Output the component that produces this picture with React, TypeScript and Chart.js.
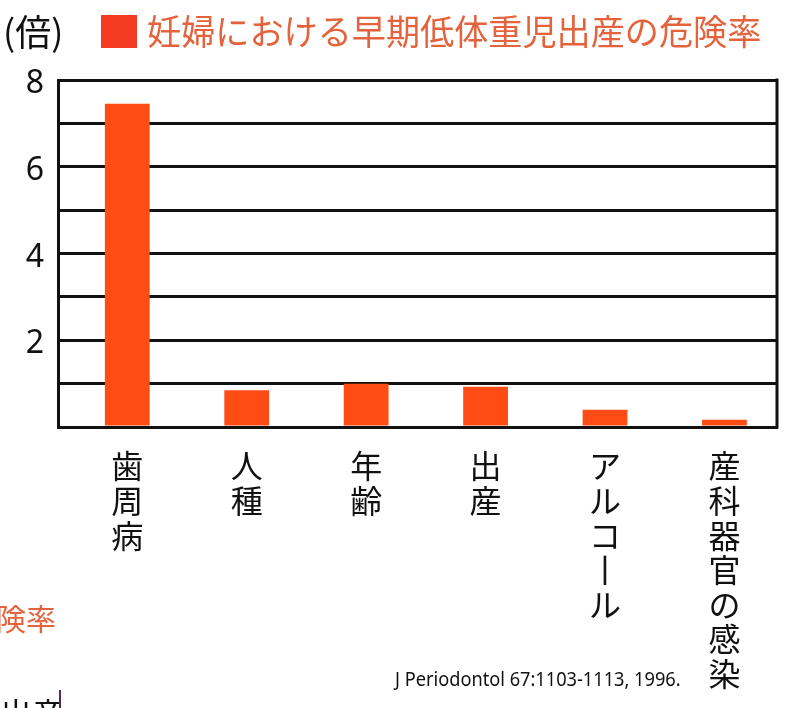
import React, { useEffect, useRef } from 'react';
import { Chart, registerables } from 'chart.js';

Chart.register(...registerables);

// ---- data ----
const categories = ['歯周病', '人種', '年齢', '出産', 'アルコール', '産科器官の感染'];
const riskValues = [7.45, 0.85, 1.0, 0.93, 0.4, 0.17];
const seriesLabel = '妊婦における早期低体重児出産の危険率';
const yUnit = '(倍)';
const yTickLabels = [2, 4, 6, 8];
const sourceNote = 'J Periodontol 67:1103-1113, 1996.';

const BAR_COLOR = '#ff4b14';
const LEGEND_SQUARE = '#f53a24';
const LEGEND_TEXT = '#e4623c';
const INK = '#111111';
const JP = '"Noto Sans CJK JP", "Noto Sans", sans-serif';
const NUM = '"Noto Sans", "Open Sans", sans-serif';

// vertical label: one char per line, long vowel mark shown as a vertical stroke
const verticalLabels = categories.map((c) => Array.from(c).map((ch) => (ch === 'ー' ? '丨' : ch)));
const points = riskValues.map((v, i) => ({ x: i, y: v }));

const rightBorder = {
  id: 'rightBorder',
  afterDatasetsDraw(chart: any) {
    const { ctx, chartArea } = chart;
    ctx.save();
    ctx.strokeStyle = INK;
    ctx.lineWidth = 3;
    ctx.beginPath();
    ctx.moveTo(chartArea.right, chartArea.top - 1.5);
    ctx.lineTo(chartArea.right, chartArea.bottom + 1.5);
    ctx.stroke();
    ctx.restore();
  },
};

export default function App() {
  const ref = useRef<HTMLCanvasElement>(null);

  useEffect(() => {
    document.body.style.margin = '0';
    const chart = new Chart(ref.current!, {
      type: 'bar',
      data: {
        datasets: [
          {
            label: seriesLabel,
            data: points,
            backgroundColor: BAR_COLOR,
            barPercentage: 0.375,
            categoryPercentage: 1,
          },
        ],
      },
      options: {
        responsive: false,
        animation: false,
        layout: { padding: { top: 80, right: 23, left: 0, bottom: 0 } },
        plugins: { legend: { display: false }, tooltip: { enabled: false } },
        scales: {
          x: {
            type: 'linear',
            min: -0.58,
            max: 5.44,
            offset: false,
            grid: { display: false },
            border: { display: true, color: INK, width: 3 },
            ticks: {
              stepSize: 1,
              includeBounds: false,
              color: INK,
              font: { family: JP, size: 32, lineHeight: 1.08 },
              padding: 14,
              maxRotation: 0,
              minRotation: 0,
              autoSkip: false,
              callback: (v: any) => {
                const n = Number(v);
                return Number.isInteger(n) && n >= 0 && n < verticalLabels.length ? verticalLabels[n] : '';
              },
            },
            afterFit: (s: any) => {
              s.height = 281;
            },
          },
          y: {
            min: 0,
            max: 8,
            ticks: {
              stepSize: 1,
              color: INK,
              font: { family: NUM, size: 32 },
              padding: 14,
              labelOffset: 4,
              callback: (v: any) => (yTickLabels.includes(Number(v)) ? String(v) : ''),
            },
            grid: { color: INK, lineWidth: 3, drawTicks: false },
            border: { color: INK, width: 3 },
            afterFit: (s: any) => {
              s.width = 58;
            },
          },
        },
      },
      plugins: [rightBorder],
    });
    return () => chart.destroy();
  }, []);

  return (
    <div style={{ position: 'relative', width: 800, height: 708, overflow: 'hidden', background: '#fff' }}>
      <canvas ref={ref} width={800} height={708} style={{ position: 'absolute', left: 0, top: 0, width: 800, height: 708 }} />
      <div style={{ position: 'absolute', left: 3, top: 8, fontFamily: JP, fontSize: 36, color: INK, lineHeight: '44px' }}>{yUnit}</div>
      <div style={{ position: 'absolute', left: 101, top: 15, width: 36, height: 33, background: LEGEND_SQUARE }} />
      <div style={{ position: 'absolute', left: 147, top: 9, fontFamily: JP, fontSize: 35, color: LEGEND_TEXT, lineHeight: '42px', whiteSpace: 'nowrap', transform: 'scaleX(0.975)', transformOrigin: 'left top' }}>{seriesLabel}</div>
      <div style={{ position: 'absolute', left: -4, top: 597, fontFamily: JP, fontSize: 30, color: LEGEND_TEXT, lineHeight: '40px' }}>険率</div>
      <div style={{ position: 'absolute', left: 395, top: 665, fontFamily: NUM, fontSize: 20, color: INK, lineHeight: '28px', whiteSpace: 'nowrap', transform: 'scaleX(0.91)', transformOrigin: 'left top' }}>{sourceNote}</div>
      <div style={{ position: 'absolute', left: 0, top: 692, fontFamily: JP, fontSize: 32, color: INK, lineHeight: '40px' }}>出産</div>
      <div style={{ position: 'absolute', left: 59, top: 690, width: 2, height: 20, background: '#5a2a4a' }} />
    </div>
  );
}
